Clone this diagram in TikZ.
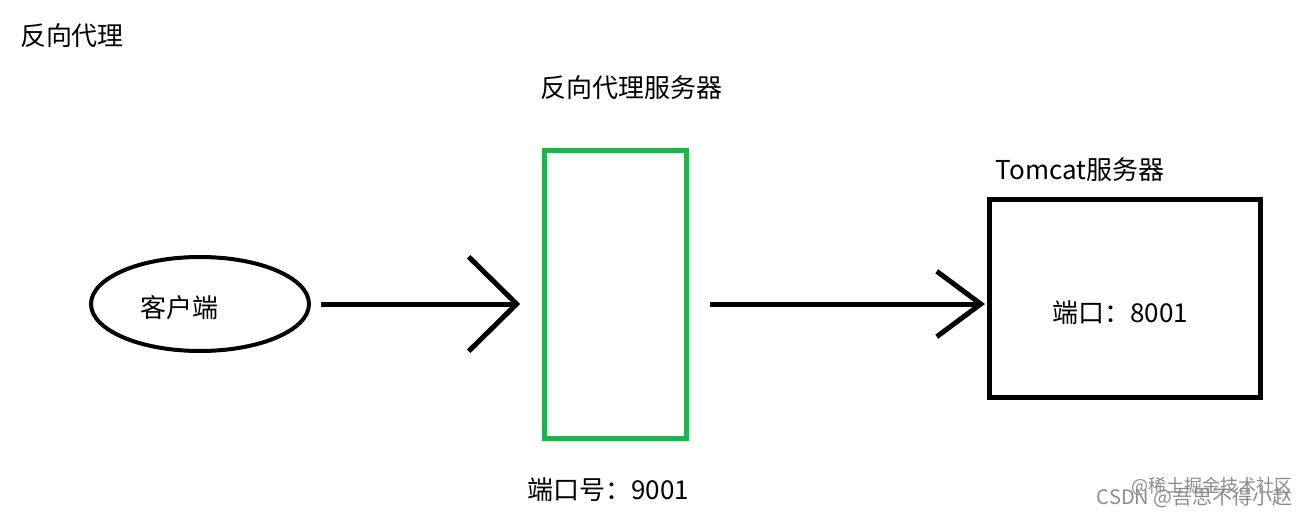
\documentclass[tikz,border=0pt]{standalone}
\usepackage{fontspec}
\setmainfont{Noto Sans CJK SC}
\usepackage{xcolor}
\usetikzlibrary{arrows.meta}
\usetikzlibrary{shapes.geometric}
\definecolor{paintgreen}{HTML}{22B14C}

\begin{document}
\begin{tikzpicture}[x=0.75pt,y=-0.75pt,
  txt/.style={inner sep=0pt,font=\fontsize{19.5}{23}\selectfont},
  box/.style={draw,line width=3.75pt,minimum width=#1},
  flow/.style={line width=3.75pt},
  wmark/.style={inner sep=0pt,text=black!45,anchor=east}]
  \useasboundingbox (0,0) rectangle (1306,517);

  \node[txt] (title) at (72,36) {反向代理};
  \node[txt] (proxylabel) at (631,88) {反向代理服务器};
  \node[txt] (tomcatlabel) at (1080,170) {Tomcat服务器};

  \node[draw,ellipse,line width=3pt,minimum width=163.5pt,minimum height=70.5pt]
    (client) at (200,304) {};
  \node[txt] (clienttext) at (179,308) {客户端};

  \node[box=106.5pt,draw=paintgreen,minimum height=216pt] (proxy) at (615,294) {};
  \node[txt] (proxyport) at (608,490) {端口号：9001};

  \node[box=203.25pt,minimum height=148.5pt] (tomcat) at (1125,298.5) {};
  \node[txt] (tomcatport) at (1120,313) {端口：8001};

  \draw[flow,-{Straight Barb[length=36pt,width=71pt]},shorten <=7.5pt,shorten >=16pt]
    (client.east) -- (client.east -| proxy.west);
  \draw[flow,-{Straight Barb[length=33pt,width=49pt]},shorten <=16pt,shorten >=1.5pt]
    (proxy.east |- client.east) -- (tomcat.west |- client.east);

  \node[wmark,font=\fontsize{13.5}{15}\selectfont] (wm1) at (1293,486) {@稀土掘金技术社区};
  \node[wmark,font=\fontsize{15}{17}\selectfont] (wm2) at (1293,498) {CSDN @吾思不得小赵};
\end{tikzpicture}
\end{document}
